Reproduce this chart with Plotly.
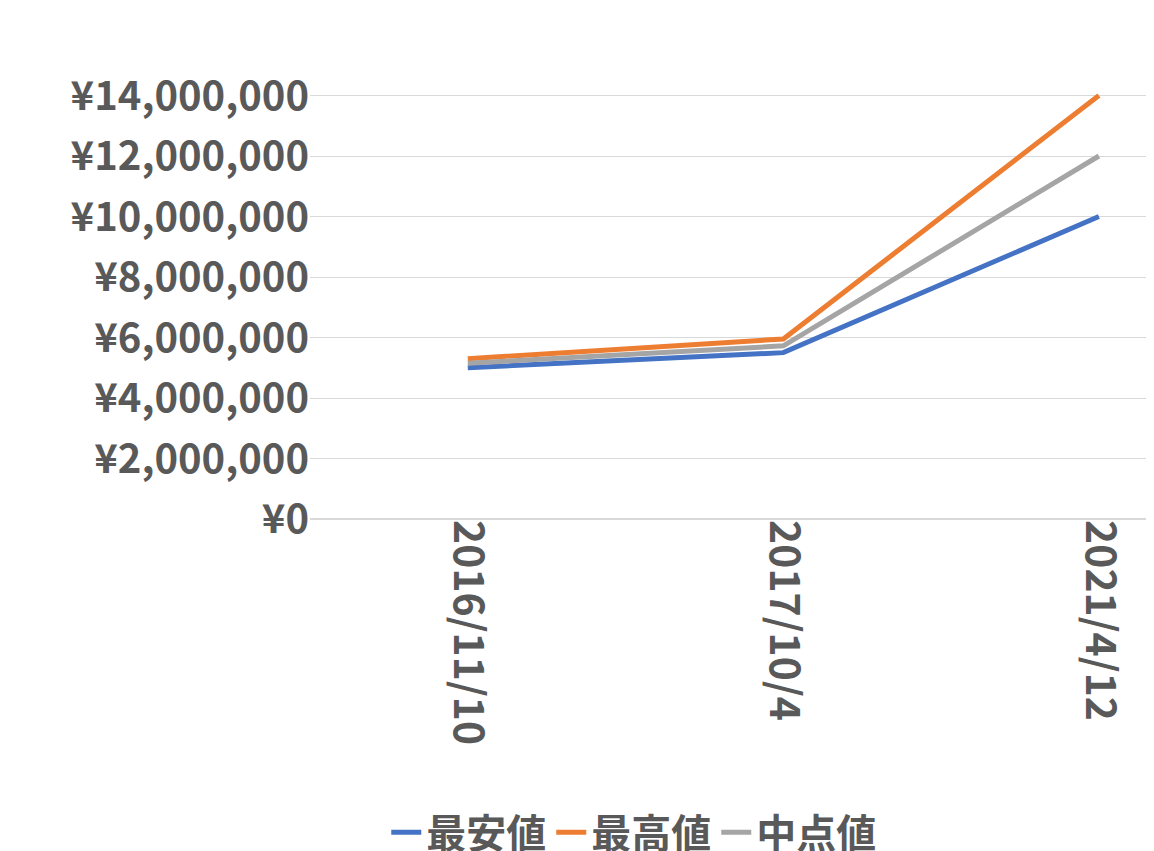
import plotly.graph_objects as go

dates = ["2016/11/10", "2017/10/4", "2021/4/12"]
low = [5000000, 5500000, 10000000]
high = [5300000, 5950000, 14000000]
mid = [5150000, 5725000, 12000000]

font = "Noto Sans CJK JP"
grey = "#595959"

fig = go.Figure()
fig.add_trace(go.Scatter(x=dates, y=low, mode="lines", name="最安値",
                         line=dict(color="#4472C4", width=5)))
fig.add_trace(go.Scatter(x=dates, y=high, mode="lines", name="最高値",
                         line=dict(color="#ED7D31", width=5)))
fig.add_trace(go.Scatter(x=dates, y=mid, mode="lines", name="中点値",
                         line=dict(color="#A5A5A5", width=5)))

fig.update_layout(
    width=1154, height=851,
    margin=dict(l=302, r=0, t=27, b=340, autoexpand=False),
    plot_bgcolor="white", paper_bgcolor="white",
    font=dict(family=font, size=40, color=grey),
    showlegend=True,
    legend=dict(orientation="h", x=0.38, xanchor="center", y=-0.58, yanchor="top",
                font=dict(size=40, color=grey, weight="bold")),
)
fig.update_xaxes(type="category", range=[-0.5, 2.2], tickangle=90, automargin=False,
                 showgrid=False, showline=False, ticks="",
                 tickfont=dict(size=41, color=grey, weight="bold"))
fig.update_yaxes(range=[0, 16000000], dtick=2000000, tickprefix="¥", tickformat=",d",
                 automargin=False,
                 showgrid=True, gridcolor="#D9D9D9", zeroline=True, zerolinecolor="#D9D9D9",
                 ticks="", tickfont=dict(size=40, color=grey, weight="bold"))

fig.write_html("out.html")
